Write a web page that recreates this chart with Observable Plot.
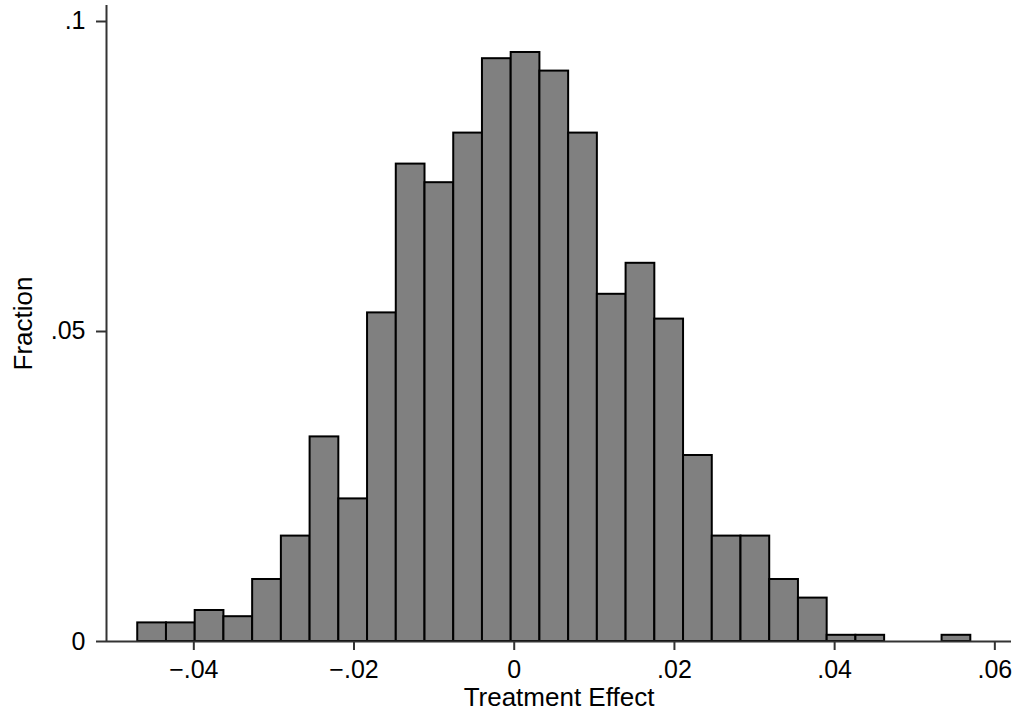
<!DOCTYPE html>
<html>
<head>
<meta charset="utf-8">
<script src="https://cdn.jsdelivr.net/npm/d3@7"></script>
<script src="https://cdn.jsdelivr.net/npm/@observablehq/plot@0.6"></script>
<style>
  html, body { margin: 0; padding: 0; background: #fff; }
</style>
</head>
<body>
<div id="chart"></div>
<script>
// Histogram fractions (29 equal-width bins)
const fractions = [
  0.003, 0.003, 0.005, 0.004, 0.010, 0.017, 0.033, 0.023, 0.053, 0.077,
  0.074, 0.082, 0.094, 0.095, 0.092, 0.082, 0.056, 0.061, 0.052, 0.030,
  0.017, 0.017, 0.010, 0.007, 0.001, 0.001, 0.000, 0.000, 0.001
];
const binLow = -0.0470;
const binHigh = 0.0570;

const xTicks = [-0.04, -0.02, 0, 0.02, 0.04, 0.06];
const xTickLabels = ["\u2212.04", "\u2212.02", "0", ".02", ".04", ".06"];
const yTicks = [0, 0.05, 0.1];
const yTickLabels = ["0", ".05", ".1"];
const xTitle = "Treatment Effect";
const yTitle = "Fraction";

const xDomain = [-0.0509, 0.06208];
const yDomain = [0, 0.10258];

const nBins = fractions.length;
const binW = (binHigh - binLow) / nBins;
const bins = fractions
  .map((f, i) => ({x1: binLow + i * binW, x2: binLow + (i + 1) * binW, f}))
  .filter(d => d.f > 0);

const axisColor = "#333";
const font = "'Liberation Sans', Arial, Helvetica, sans-serif";

const chart = Plot.plot({
  width: 1016,
  height: 713,
  marginLeft: 106,
  marginRight: 5,
  marginTop: 5,
  marginBottom: 72,
  style: {fontFamily: font, background: "#fff", color: "#000", overflow: "visible"},
  x: {domain: xDomain},
  y: {domain: yDomain},
  marks: [
    Plot.rectY(bins, {x1: "x1", x2: "x2", y: "f", fill: "#808080", stroke: "#000", strokeWidth: 2}),
    Plot.ruleY([0], {stroke: axisColor, strokeWidth: 2}),
    Plot.ruleX([xDomain[0]], {stroke: axisColor, strokeWidth: 2}),
    Plot.axisX({
      ticks: xTicks,
      tickFormat: d => xTickLabels[xTicks.indexOf(d)],
      tickSize: 9,
      tickPadding: 10,
      fontSize: 25,
      stroke: axisColor,
      strokeWidth: 2,
      fill: "#000",
      label: null
    }),
    Plot.axisY({
      ticks: yTicks,
      tickFormat: d => yTickLabels[yTicks.indexOf(d)],
      tickSize: 10,
      tickPadding: 11,
      fontSize: 25,
      stroke: axisColor,
      strokeWidth: 2,
      fill: "#000",
      label: null
    }),
    Plot.text([xTitle], {text: d => d, frameAnchor: "bottom", dy: 46, lineAnchor: "top", textAnchor: "middle", fontSize: 26, fill: "#000"}),
    Plot.text([yTitle], {text: d => d, frameAnchor: "left", rotate: -90, dx: -92.5, lineAnchor: "top", textAnchor: "middle", fontSize: 26, fill: "#000"})
  ]
});
document.getElementById("chart").appendChild(chart);
</script>
</body>
</html>
